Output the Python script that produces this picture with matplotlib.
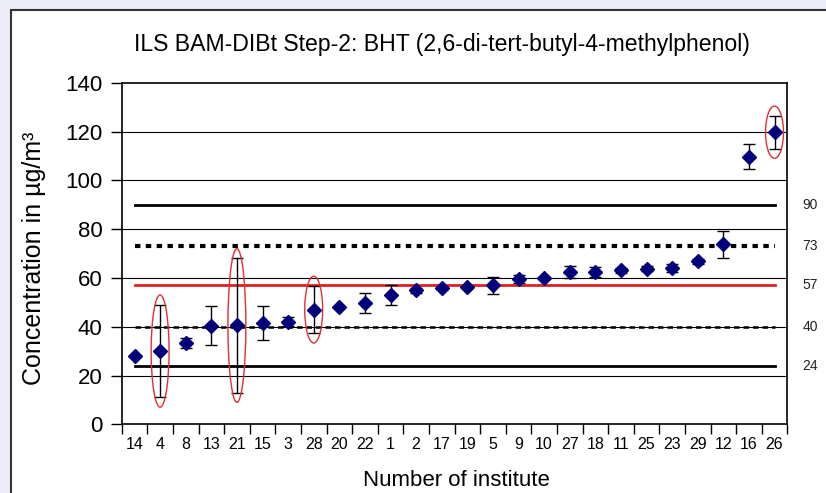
import matplotlib
matplotlib.use('Agg')
import matplotlib.pyplot as plt
from matplotlib.patches import Ellipse, Rectangle
import numpy as np

plt.rcParams['font.family'] = ['Liberation Sans', 'DejaVu Sans']

# data
institutes = ['14', '4', '8', '13', '21', '15', '3', '28', '20', '22', '1', '2', '17',
              '19', '5', '9', '10', '27', '18', '11', '25', '23', '29', '12', '16', '26']
values = [28, 30, 33.3, 40.3, 40.5, 41.5, 42.1, 47, 47.9, 49.7, 53, 54.9, 55.8,
          56.1, 57, 59.6, 60, 62.3, 62.3, 63.1, 63.7, 64, 66.8, 73.7, 109.7, 119.7]
errors = [0, 19, 2.2, 8, 27.5, 7, 1.7, 9.7, 0, 4, 4, 1, 0.5,
          0, 3.5, 1.5, 0.5, 2.5, 2, 1, 1, 1.5, 1, 5.5, 5, 6.7]
circled = ['4', '21', '28', '26']
ref_levels = [90, 73, 57, 40, 24]
ref_labels = ['90', '73', '57', '40', '24']

fig = plt.figure(figsize=(8.26, 4.93), dpi=100)
fig.patch.set_facecolor('#EDEDF9')
# white panel with frame
fig.patches.append(Rectangle((11/826, -0.1), 1.2, 0.1 + 1 - 10/493, transform=fig.transFigure,
                             facecolor='white', edgecolor='#333333', lw=1.5, zorder=-5))

ax = fig.add_axes([121.7/826, 1 - 424.3/493, (787.3-121.7)/826, (424.3-82.7)/493])
ax.set_facecolor('white')
x = np.arange(len(institutes))

# grid
for g in range(20, 140, 20):
    ax.axhline(g, color='black', lw=0.8, zorder=1)

# reference lines
styles = [dict(color='black', lw=2, ls='-'),
          dict(color='black', lw=3, ls=(0, (1.3, 1.3))),
          dict(color='#E02020', lw=2, ls='-'),
          dict(color='black', lw=1.8, ls=(0, (2.2, 1.6))),
          dict(color='black', lw=2, ls='-')]
for lev, st in zip(ref_levels, styles):
    ax.plot([x[0], x[-1]], [lev, lev], zorder=2, **st)
for lev, lab in zip(ref_levels, ref_labels):
    ax.text(26.1, lev, lab, fontsize=10, color='#222222', va='center', ha='left', clip_on=False)

ax.errorbar(x, values, yerr=errors, fmt='D', color='#00007A', ms=7.5,
            ecolor='black', elinewidth=1, capsize=4, capthick=1, zorder=4)

for inst in circled:
    i = institutes.index(inst)
    ax.add_patch(Ellipse((x[i], values[i]), 0.7, 2*errors[i] + 8, fill=False,
                         edgecolor='#E03030', lw=1, zorder=5))

ax.set_xlim(-0.5, len(institutes) - 0.5)
ax.set_ylim(0, 140)
ax.set_yticks(range(0, 141, 20))
ax.set_xticks(x)
ax.set_xticklabels(institutes, fontsize=11.5)
ax.set_xticks(np.arange(-0.5, len(institutes)), minor=True)
ax.tick_params(axis='x', which='major', length=0, pad=9)
ax.tick_params(axis='x', which='minor', length=7, width=1, direction='out')
ax.tick_params(axis='y', length=8, width=1, labelsize=16, pad=6)
for s in ax.spines.values():
    s.set_linewidth(1.2)

fig.text(442/826, 1 - 44/493, 'ILS BAM-DIBt Step-2: BHT (2,6-di-tert-butyl-4-methylphenol)',
         fontsize=16.6, ha='center', va='center')
fig.text(456/826, 1 - 480/493, 'Number of institute', fontsize=16, ha='center', va='center')
fig.text(34/826, 1 - 258/493, 'Concentration in µg/m³', fontsize=18, rotation=90,
         ha='center', va='center')

fig.savefig('out.png', dpi=100, facecolor=fig.get_facecolor())
